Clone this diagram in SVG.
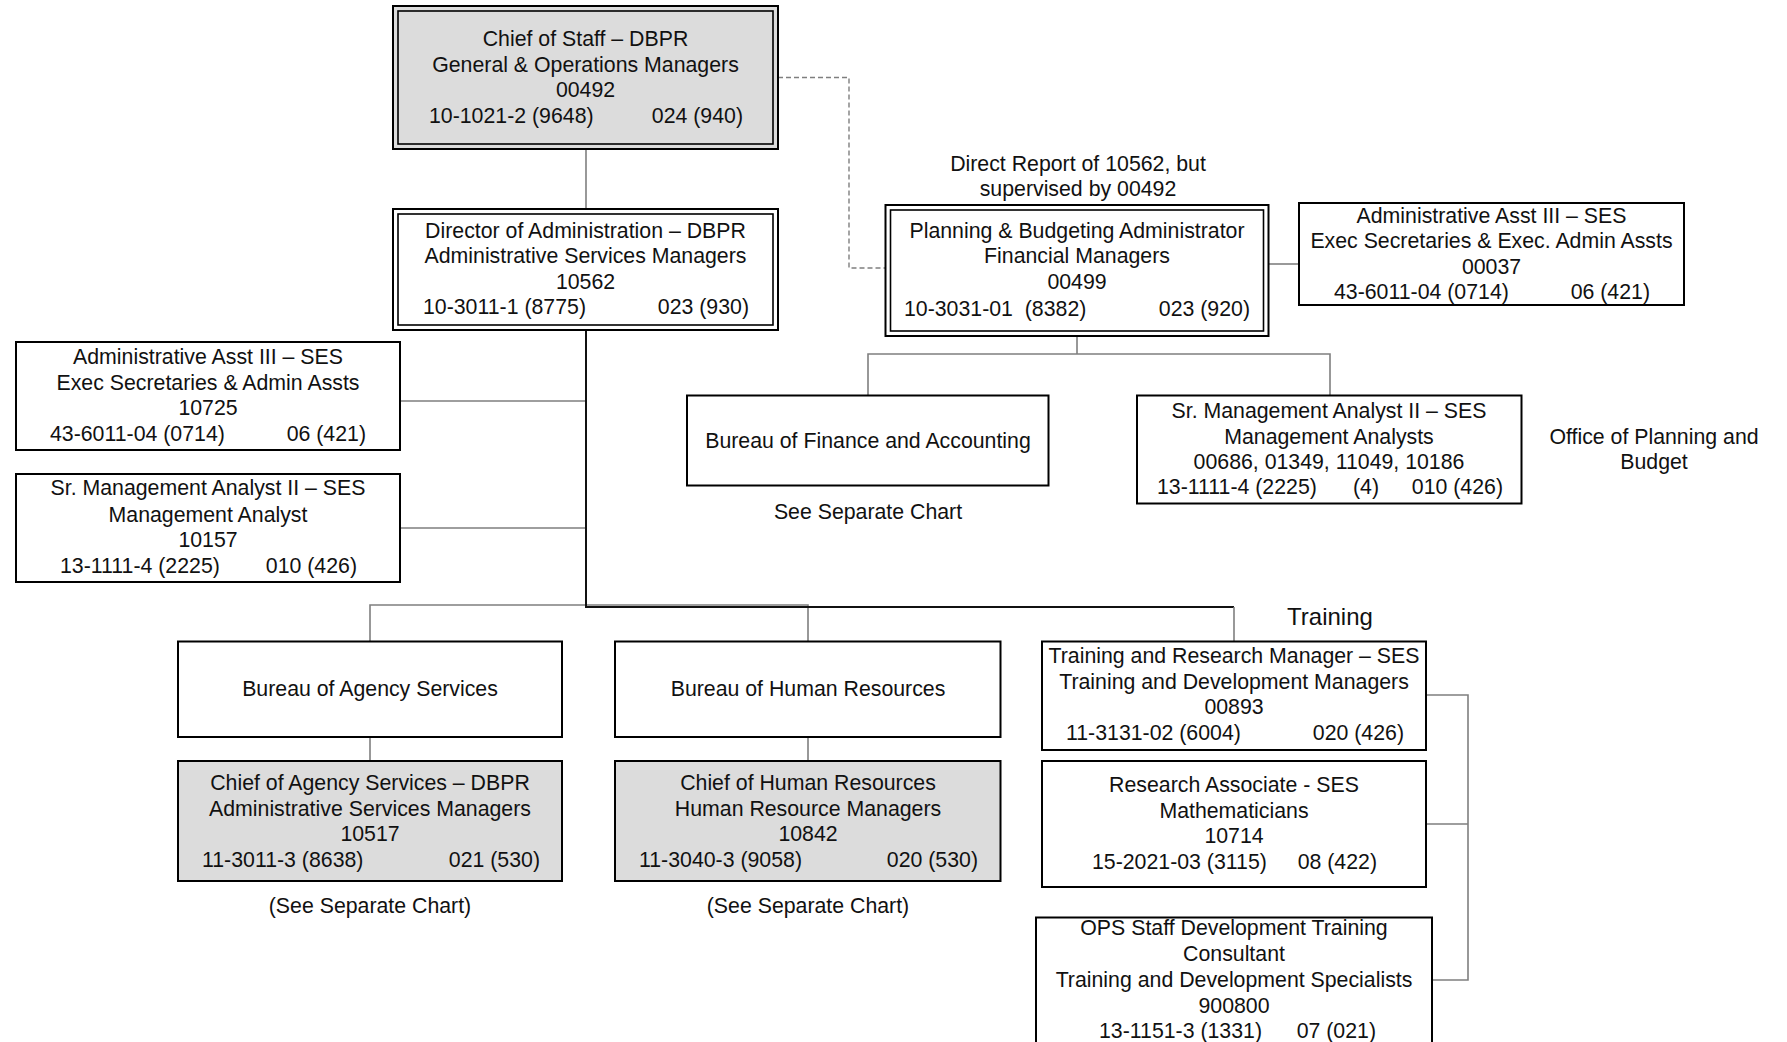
<svg xmlns="http://www.w3.org/2000/svg" width="1787" height="1042" viewBox="0 0 1787 1042">
  <style>
    text { font-family: "Liberation Sans", Arial, sans-serif; font-size: 21.3px; fill: #111; }
    .c { text-anchor: middle; }
    .e { text-anchor: end; }
    .big { font-size: 24px; }
    .box { fill: #fff; stroke: #000; stroke-width: 2; }
    .shade { fill: #dcdcdc; }
    .inner { fill: none; stroke: #000; stroke-width: 1.6; }
    .conn { fill: none; stroke: #7f7f7f; stroke-width: 1.6; }
    .trunk { fill: none; stroke: #111; stroke-width: 2; }
    .dash { fill: none; stroke: #7f7f7f; stroke-width: 1.4; stroke-dasharray: 5 3; }
  </style>
  <rect width="1787" height="1042" fill="#fff"/>

  <!-- connectors -->
  <g id="connectors">
    <path class="conn" d="M586 149 V209"/>
    <path class="dash" d="M778 77.5 H849 V268 H885"/>
    <path class="conn" d="M400 401 H586 M400 528 H586"/>
    <path class="conn" d="M1269 264 H1299"/>
    <path class="conn" d="M1077 336 V354 M868 395 V354 H1330 V395"/>
    <path class="conn" d="M370 641 V605 H808 V641"/>
    <path class="trunk" d="M586 330 V607 H1234"/>
    <path class="conn" d="M1234 607 V641"/>
    <path class="conn" d="M370 737 V761 M808 737 V761"/>
    <path class="conn" d="M1426 695 H1468 V980 H1432 M1426 824 H1468"/>
  </g>

  <!-- Chief of Staff -->
  <g id="chief-of-staff">
    <rect class="box shade" x="393" y="6" width="385" height="143"/>
    <rect class="inner" x="398" y="11" width="375" height="133"/>
    <text class="c" x="585.5" y="46">Chief of Staff – DBPR</text>
    <text class="c" x="585.5" y="72">General &amp; Operations Managers</text>
    <text class="c" x="585.5" y="97">00492</text>
    <text x="429" y="123">10-1021-2 (9648)</text>
    <text class="e" x="743" y="123">024 (940)</text>
  </g>

  <!-- Director of Administration -->
  <g id="director-administration">
    <rect class="box" x="393" y="209" width="385" height="121"/>
    <rect class="inner" x="398" y="214" width="375" height="111"/>
    <text class="c" x="585.5" y="238">Director of Administration – DBPR</text>
    <text class="c" x="585.5" y="263">Administrative Services Managers</text>
    <text class="c" x="585.5" y="289">10562</text>
    <text x="423" y="314">10-3011-1 (8775)</text>
    <text class="e" x="749" y="314">023 (930)</text>
  </g>

  <!-- Planning & Budgeting Administrator -->
  <g id="planning-budgeting">
    <text class="c" x="1078" y="171">Direct Report of 10562, but</text>
    <text class="c" x="1078" y="195.5">supervised by 00492</text>
    <rect class="box" x="885.5" y="205" width="383" height="131"/>
    <rect class="inner" x="890.5" y="210" width="373" height="121"/>
    <text class="c" x="1077" y="238">Planning &amp; Budgeting Administrator</text>
    <text class="c" x="1077" y="263">Financial Managers</text>
    <text class="c" x="1077" y="289">00499</text>
    <text x="904" y="316" xml:space="preserve">10-3031-01  (8382)</text>
    <text class="e" x="1250" y="316">023 (920)</text>
  </g>

  <!-- Administrative Asst III (00037) -->
  <g id="admin-asst-00037">
    <rect class="box" x="1299" y="203" width="385" height="102"/>
    <text class="c" x="1491.5" y="223">Administrative Asst III – SES</text>
    <text class="c" x="1491.5" y="248">Exec Secretaries &amp; Exec. Admin Assts</text>
    <text class="c" x="1491.5" y="274">00037</text>
    <text x="1334" y="299">43-6011-04 (0714)</text>
    <text class="e" x="1650" y="299">06 (421)</text>
  </g>

  <!-- Administrative Asst III (10725) -->
  <g id="admin-asst-10725">
    <rect class="box" x="16" y="342" width="384" height="108"/>
    <text class="c" x="208" y="364">Administrative Asst III – SES</text>
    <text class="c" x="208" y="389.5">Exec Secretaries &amp; Admin Assts</text>
    <text class="c" x="208" y="414.5">10725</text>
    <text x="50" y="440.5">43-6011-04 (0714)</text>
    <text class="e" x="366" y="440.5">06 (421)</text>
  </g>

  <!-- Sr. Management Analyst II (10157) -->
  <g id="mgmt-analyst-10157">
    <rect class="box" x="16" y="474" width="384" height="108"/>
    <text class="c" x="208" y="495">Sr. Management Analyst II – SES</text>
    <text class="c" x="208" y="521.5">Management Analyst</text>
    <text class="c" x="208" y="546.5">10157</text>
    <text x="60" y="572.5">13-1111-4 (2225)</text>
    <text class="e" x="357" y="572.5">010 (426)</text>
  </g>

  <!-- Bureau of Finance and Accounting -->
  <g id="bureau-finance">
    <rect class="box" x="687" y="395.5" width="361.5" height="90"/>
    <text class="c" x="868" y="447.5">Bureau of Finance and Accounting</text>
    <text class="c" x="868" y="519">See Separate Chart</text>
  </g>

  <!-- Sr. Management Analyst II (Planning) -->
  <g id="mgmt-analysts-planning">
    <rect class="box" x="1137" y="395.5" width="384.5" height="108"/>
    <text class="c" x="1329" y="418">Sr. Management Analyst II – SES</text>
    <text class="c" x="1329" y="444">Management Analysts</text>
    <text class="c" x="1329" y="469">00686, 01349, 11049, 10186</text>
    <text x="1157" y="494">13-1111-4 (2225)</text>
    <text x="1353" y="494">(4)</text>
    <text class="e" x="1503" y="494">010 (426)</text>
  </g>

  <!-- Office of Planning and Budget label -->
  <g id="office-planning-label">
    <text class="c" x="1654" y="444">Office of Planning and</text>
    <text class="c" x="1654" y="469">Budget</text>
  </g>

  <!-- Bureau of Agency Services -->
  <g id="bureau-agency">
    <rect class="box" x="178" y="641.5" width="384" height="95.5"/>
    <text class="c" x="370" y="696">Bureau of Agency Services</text>
  </g>

  <!-- Chief of Agency Services -->
  <g id="chief-agency">
    <rect class="box shade" x="178" y="761" width="384" height="120"/>
    <text class="c" x="370" y="789.5">Chief of Agency Services – DBPR</text>
    <text class="c" x="370" y="815.5">Administrative Services Managers</text>
    <text class="c" x="370" y="840.5">10517</text>
    <text x="202" y="867">11-3011-3 (8638)</text>
    <text class="e" x="540" y="867">021 (530)</text>
    <text class="c" x="370" y="912.5">(See Separate Chart)</text>
  </g>

  <!-- Bureau of Human Resources -->
  <g id="bureau-hr">
    <rect class="box" x="615" y="641.5" width="385.5" height="95.5"/>
    <text class="c" x="808" y="696">Bureau of Human Resources</text>
  </g>

  <!-- Chief of Human Resources -->
  <g id="chief-hr">
    <rect class="box shade" x="615" y="761" width="385.5" height="120"/>
    <text class="c" x="808" y="789.5">Chief of Human Resources</text>
    <text class="c" x="808" y="815.5">Human Resource Managers</text>
    <text class="c" x="808" y="840.5">10842</text>
    <text x="639" y="867">11-3040-3 (9058)</text>
    <text class="e" x="978" y="867">020 (530)</text>
    <text class="c" x="808" y="912.5">(See Separate Chart)</text>
  </g>

  <!-- Training label -->
  <g id="training-label">
    <text class="c big" x="1330" y="625">Training</text>
  </g>

  <!-- Training and Research Manager -->
  <g id="training-manager">
    <rect class="box" x="1042" y="641.5" width="384" height="108.5"/>
    <text class="c" x="1234" y="663">Training and Research Manager – SES</text>
    <text class="c" x="1234" y="689">Training and Development Managers</text>
    <text class="c" x="1234" y="714">00893</text>
    <text x="1066" y="740">11-3131-02 (6004)</text>
    <text class="e" x="1404" y="740">020 (426)</text>
  </g>

  <!-- Research Associate -->
  <g id="research-associate">
    <rect class="box" x="1042" y="761" width="384" height="126"/>
    <text class="c" x="1234" y="792">Research Associate - SES</text>
    <text class="c" x="1234" y="818">Mathematicians</text>
    <text class="c" x="1234" y="843">10714</text>
    <text x="1092" y="869">15-2021-03 (3115)</text>
    <text class="e" x="1377" y="869">08 (422)</text>
  </g>

  <!-- OPS Staff Development Training Consultant -->
  <g id="ops-training-consultant">
    <rect class="box" x="1036" y="917.5" width="396" height="140"/>
    <text class="c" x="1234" y="935">OPS Staff Development Training</text>
    <text class="c" x="1234" y="961">Consultant</text>
    <text class="c" x="1234" y="986.5">Training and Development Specialists</text>
    <text class="c" x="1234" y="1012.5">900800</text>
    <text x="1099" y="1038">13-1151-3 (1331)</text>
    <text class="e" x="1376" y="1038">07 (021)</text>
  </g>
</svg>
